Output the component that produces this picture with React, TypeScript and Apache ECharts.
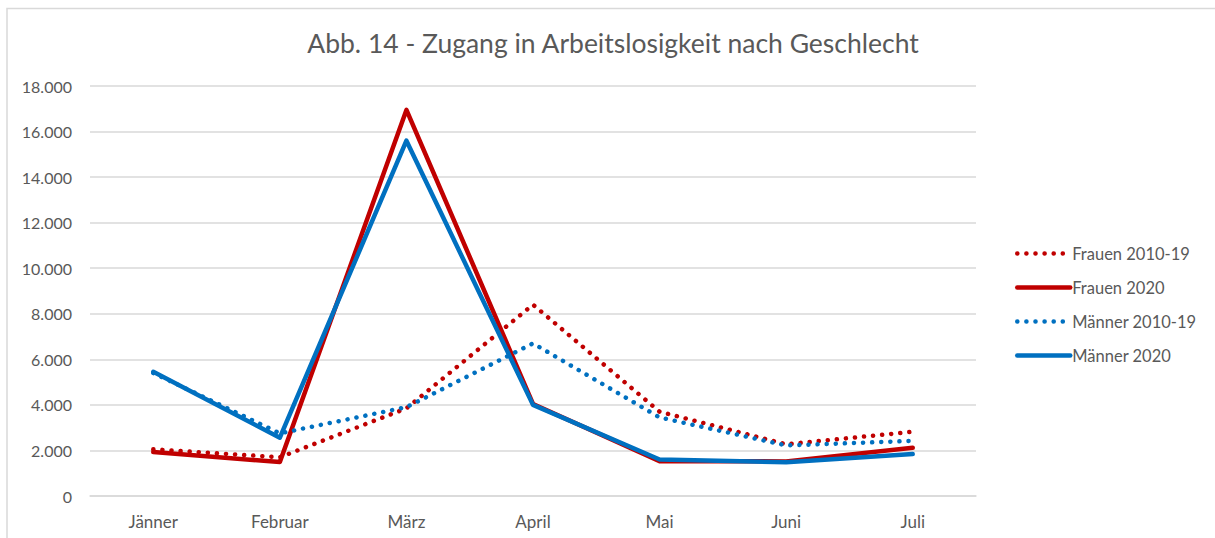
import React, { useEffect, useRef } from "react";
import * as echarts from "echarts";

const months = ["Jänner", "Februar", "März", "April", "Mai", "Juni", "Juli"];
const frauen1019 = [2050, 1700, 3850, 8400, 3700, 2270, 2820];
const frauen2020 = [1930, 1490, 16950, 4040, 1530, 1520, 2120];
const maenner1019 = [5400, 2750, 3900, 6700, 3450, 2220, 2420];
const maenner2020 = [5450, 2560, 15600, 4000, 1600, 1480, 1840];
const seriesNames = ["Frauen 2010-19", "Frauen 2020", "Männer 2010-19", "Männer 2020"];
const titleText = "Abb. 14 - Zugang in Arbeitslosigkeit nach Geschlecht";

const RED = "#C00000";
const BLUE = "#0070C0";
const GRAY = "#595959";
const FONT = "Lato";

const fmt = (v: number) => String(v).replace(/\B(?=(\d{3})+(?!\d))/g, ".");

export default function App() {
  const ref = useRef<HTMLDivElement>(null);
  useEffect(() => {
    document.body.style.margin = "0";
    const chart = echarts.init(ref.current!, null, { renderer: "svg" });
    const dottedStyle = (color: string) => ({ color, width: 4.5, type: [0.1, 9], cap: "round" });
    const solidStyle = (color: string) => ({ color, width: 4.5, type: "solid", cap: "round", join: "round" });
    const mk = (name: string, data: number[], color: string, dotted: boolean) => ({
      name,
      type: "line",
      data,
      symbol: "none",
      showSymbol: false,
      lineStyle: dotted ? dottedStyle(color) : solidStyle(color),
      itemStyle: { color },
    });
    const legendData = [
      { name: seriesNames[0], lineStyle: dottedStyle(RED) },
      { name: seriesNames[1], lineStyle: solidStyle(RED) },
      { name: seriesNames[2], lineStyle: dottedStyle(BLUE) },
      { name: seriesNames[3], lineStyle: solidStyle(BLUE) },
    ];
    chart.setOption({
      animation: false,
      backgroundColor: "#ffffff",
      textStyle: { fontFamily: FONT },
      title: {
        text: titleText,
        left: 608,
        textAlign: "center",
        top: 24,
        textStyle: { fontFamily: FONT, fontSize: 26.5, fontWeight: "normal", color: GRAY },
      },
      graphic: [
        {
          type: "rect",
          shape: { x: 7, y: 8.5, width: 1400, height: 800 },
          style: { fill: "none", stroke: "#d9d9d9", lineWidth: 1.5 },
          silent: true,
        },
      ],
      legend: {
        orient: "vertical",
        left: 1010,
        top: 240,
        itemWidth: 53,
        itemHeight: 14,
        itemGap: 17,
        data: legendData,
        itemStyle: { opacity: 0 },
        textStyle: { fontFamily: FONT, fontSize: 16.5, color: GRAY, padding: [0, 0, 0, -3] },
      },
      grid: { left: 90, right: 239, top: 86, bottom: 42, containLabel: false },
      xAxis: {
        type: "category",
        data: months,
        boundaryGap: true,
        axisTick: { show: false },
        axisLine: { lineStyle: { color: "#d9d9d9", width: 1.5 } },
        axisLabel: { color: GRAY, fontFamily: FONT, fontSize: 17, margin: 17 },
      },
      yAxis: {
        type: "value",
        min: 0,
        max: 18000,
        interval: 2000,
        axisLine: { show: false },
        axisTick: { show: false },
        splitLine: { lineStyle: { color: "#d9d9d9", width: 1.5 } },
        axisLabel: { color: GRAY, fontFamily: FONT, fontSize: 16, margin: 18, formatter: (v: number) => fmt(v) },
      },
      series: [
        mk(seriesNames[0], frauen1019, RED, true),
        mk(seriesNames[1], frauen2020, RED, false),
        mk(seriesNames[2], maenner1019, BLUE, true),
        mk(seriesNames[3], maenner2020, BLUE, false),
      ],
    });
    return () => chart.dispose();
  }, []);
  return <div ref={ref} style={{ width: 1215, height: 538 }} />;
}
